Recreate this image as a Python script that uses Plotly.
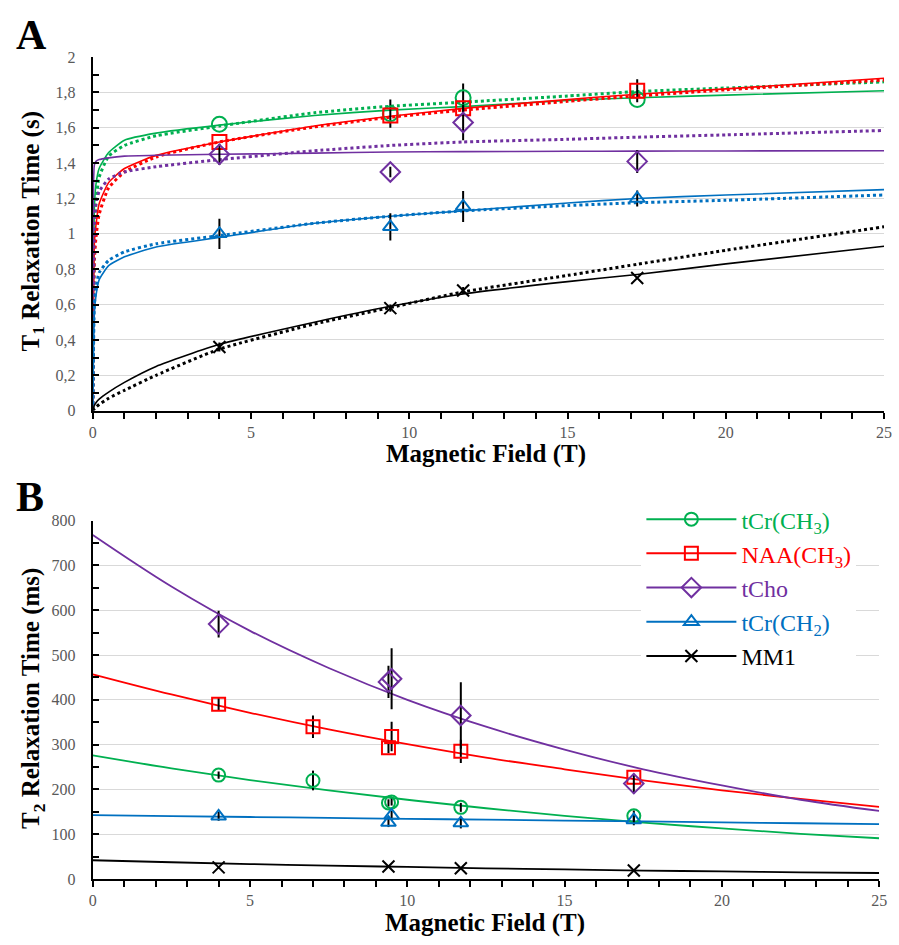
import plotly.graph_objects as go

W, H = 899, 945


def px(x):
    return x / W


def py(y):
    return 1 - y / H


# ---------------- Panel A : T1 data ----------------
fields_a = [4.0, 9.4, 11.7, 17.2]
t1_tcr_ch3 = [1.62, 1.68, 1.77, 1.76]
t1_tcr_ch3_err = [0.0, 0.08, 0.08, 0.0]
t1_naa = [1.52, 1.67, 1.71, 1.81]
t1_naa_err = [0.0, 0.0, 0.0, 0.065]
t1_tcho = [1.45, 1.35, 1.63, 1.41]
t1_tcho_err = [0.06, 0.03, 0.10, 0.065]
t1_tcr_ch2 = [1.00, 1.04, 1.155, 1.20]
t1_tcr_ch2_err = [0.085, 0.077, 0.088, 0.045]
t1_mm1 = [0.36, 0.58, 0.68, 0.75]
t1_mm1_err = [0.025, 0.02, 0.02, 0.0]

# fitted curves
fit_x_a = [0, 0.05, 0.1, 0.2, 0.5, 1, 2, 4, 7, 9.4, 11.7, 15, 17.2, 20, 25]
fit_tcr_ch3_solid = [0, 1.15, 1.28, 1.37, 1.46, 1.53, 1.57, 1.615, 1.67, 1.70, 1.72, 1.755, 1.77, 1.785, 1.81]
fit_tcr_ch3_dot = [0, 1.00, 1.18, 1.32, 1.44, 1.50, 1.555, 1.61, 1.685, 1.722, 1.745, 1.78, 1.805, 1.825, 1.86]
fit_naa_solid = [0, 0.95, 1.05, 1.17, 1.29, 1.37, 1.444, 1.52, 1.61, 1.665, 1.71, 1.76, 1.79, 1.82, 1.88]
fit_naa_dot = [0, 0.85, 0.98, 1.11, 1.26, 1.35, 1.435, 1.52, 1.605, 1.66, 1.70, 1.75, 1.78, 1.815, 1.87]
fit_tcho_solid = [0, 1.39, 1.41, 1.42, 1.43, 1.44, 1.445, 1.45, 1.457, 1.463, 1.465, 1.467, 1.468, 1.469, 1.47]
fit_tcho_dot = [0, 1.05, 1.17, 1.24, 1.31, 1.35, 1.38, 1.42, 1.47, 1.50, 1.52, 1.535, 1.547, 1.56, 1.585]
fit_tcr_ch2_solid = [0, 0.55, 0.65, 0.74, 0.82, 0.87, 0.926, 0.98, 1.06, 1.10, 1.13, 1.175, 1.20, 1.22, 1.25]
fit_tcr_ch2_dot = [0, 0.60, 0.69, 0.78, 0.85, 0.898, 0.944, 0.99, 1.06, 1.10, 1.13, 1.16, 1.176, 1.19, 1.22]
fit_mm1_solid = [0, 0.03, 0.045, 0.065, 0.105, 0.16, 0.25, 0.375, 0.50, 0.59, 0.66, 0.73, 0.77, 0.83, 0.93]
fit_mm1_dot = [0, 0.01, 0.02, 0.035, 0.07, 0.115, 0.20, 0.348, 0.49, 0.583, 0.672, 0.765, 0.828, 0.907, 1.04]

# ---------------- Panel B : T2 data ----------------
t2_tcr_ch3_x = [4.0, 7.0, 9.4, 9.5, 11.7, 17.2]
t2_tcr_ch3 = [232, 220, 170, 172, 160, 141]
t2_tcr_ch3_err = [8, 22, 8, 8, 10, 12]
t2_naa_x = [4.0, 7.0, 9.4, 9.5, 11.7, 17.2]
t2_naa = [390, 340, 293, 318, 285, 227]
t2_naa_err = [15, 25, 12, 33, 26, 0]
t2_tcho_x = [4.0, 9.4, 9.5, 11.7, 17.2]
t2_tcho = [569, 440, 447, 365, 213]
t2_tcho_err = [30, 36, 68, 74, 22]
t2_tcr_ch2_x = [4.0, 9.4, 9.5, 11.7, 17.2]
t2_tcr_ch2 = [140, 126, 142, 125, 132]
t2_tcr_ch2_err = [10, 10, 10, 12, 12]
t2_mm1_x = [4.0, 9.4, 11.7, 17.2]
t2_mm1 = [26, 28, 24, 19]
t2_mm1_err = [3, 3, 3, 3]

fit_x_b = [0, 2.5, 5, 7.5, 10, 12.5, 15, 17.5, 20, 22.5, 25]
fit_b_tcr_ch3 = [276, 247, 221, 198, 177, 158, 141, 126, 113, 101, 91]
fit_b_naa = [457, 412, 371, 334, 301, 271, 245, 220, 198, 179, 161]
fit_b_tcho = [768, 653, 554, 471, 400, 340, 289, 245, 209, 177, 152]
fit_b_tcr_ch2 = [142.5, 140.5, 138.5, 136.5, 134.5, 132.5, 130.5, 128.5, 126.5, 124.5, 122.7]
fit_b_mm1 = [42, 37.5, 33.5, 30, 27, 24, 21.5, 19, 17, 15, 13.5]

names = ["tCr(CH<sub>3</sub>)", "NAA(CH<sub>3</sub>)", "tCho", "tCr(CH<sub>2</sub>)", "MM1"]
colors = ["#00B050", "#FF0000", "#7030A0", "#0070C0", "#000000"]
symbols = ["circle-open", "square-open", "diamond-open", "triangle-up-open", "x-thin-open"]
sizes_a = [15, 14, 15, 13, 12]
sizes_b = [13, 13, 15, 13, 12]

SERIF = "Liberation Serif, Times New Roman, serif"

fig = go.Figure()

# ---- Panel A curves ----
a_solid = [fit_tcr_ch3_solid, fit_naa_solid, fit_tcho_solid, fit_tcr_ch2_solid, fit_mm1_solid]
a_dot = [fit_tcr_ch3_dot, fit_naa_dot, fit_tcho_dot, fit_tcr_ch2_dot, fit_mm1_dot]
for i in range(5):
    fig.add_trace(go.Scatter(x=fit_x_a, y=a_dot[i], mode="lines", xaxis="x", yaxis="y",
                             line=dict(color=colors[i], width=3, dash="dot", shape="spline", smoothing=0.5),
                             showlegend=False, hoverinfo="skip"))
    fig.add_trace(go.Scatter(x=fit_x_a, y=a_solid[i], mode="lines", xaxis="x", yaxis="y",
                             line=dict(color=colors[i], width=1.6, shape="spline", smoothing=0.5),
                             showlegend=False, hoverinfo="skip"))

a_vals = [t1_tcr_ch3, t1_naa, t1_tcho, t1_tcr_ch2, t1_mm1]
a_errs = [t1_tcr_ch3_err, t1_naa_err, t1_tcho_err, t1_tcr_ch2_err, t1_mm1_err]
for i in range(5):
    fig.add_trace(go.Scatter(x=fields_a, y=a_vals[i], mode="markers", xaxis="x", yaxis="y",
                             marker=dict(symbol=symbols[i], size=sizes_a[i], color=colors[i],
                                         line=dict(color=colors[i], width=2)),
                             error_y=dict(type="data", array=a_errs[i], color="#000000", thickness=2, width=0),
                             showlegend=False))

# ---- Panel B curves ----
b_fits = [fit_b_tcr_ch3, fit_b_naa, fit_b_tcho, fit_b_tcr_ch2, fit_b_mm1]
for i in range(5):
    fig.add_trace(go.Scatter(x=fit_x_b, y=b_fits[i], mode="lines", xaxis="x2", yaxis="y2",
                             line=dict(color=colors[i], width=1.8, shape="spline"),
                             showlegend=False, hoverinfo="skip"))

b_x = [t2_tcr_ch3_x, t2_naa_x, t2_tcho_x, t2_tcr_ch2_x, t2_mm1_x]
b_vals = [t2_tcr_ch3, t2_naa, t2_tcho, t2_tcr_ch2, t2_mm1]
b_errs = [t2_tcr_ch3_err, t2_naa_err, t2_tcho_err, t2_tcr_ch2_err, t2_mm1_err]
for i in range(5):
    fig.add_trace(go.Scatter(x=b_x[i], y=b_vals[i], mode="markers", xaxis="x2", yaxis="y2",
                             marker=dict(symbol=symbols[i], size=sizes_b[i], color=colors[i],
                                         line=dict(color=colors[i], width=2)),
                             error_y=dict(type="data", array=b_errs[i], color="#000000", thickness=2, width=0),
                             showlegend=False))

# ---- legend entries ----
for i in range(5):
    fig.add_trace(go.Scatter(x=[None], y=[None], mode="lines+markers", xaxis="x2", yaxis="y2",
                             name='<span style="color:%s">%s</span>' % (colors[i], names[i]),
                             line=dict(color=colors[i], width=2),
                             marker=dict(symbol=symbols[i], size=sizes_b[i], color=colors[i],
                                         line=dict(color=colors[i], width=2))))

tickfont = dict(family=SERIF, size=16, color="#595959")


def xax(x0, x1, anchor):
    return dict(domain=[px(x0), min(1.0, px(x1))], anchor=anchor, range=[0, 25], tickmode="array",
                tickvals=[0, 5, 10, 15, 20, 25], ticktext=["0", "5", "10", "15", "20", "25"],
                ticks="outside", ticklen=6, tickwidth=2, tickcolor="#000",
                minor=dict(dtick=1, ticks="outside", ticklen=6, tickwidth=2, tickcolor="#000"),
                showline=True, linecolor="#000", linewidth=2, showgrid=False, zeroline=False,
                ticklabeloverflow="allow", tickfont=tickfont)


fig.update_layout(
    width=W, height=H,
    margin=dict(l=0, r=0, t=0, b=0),
    paper_bgcolor="white", plot_bgcolor="white",
    separators=", ",
    font=dict(family=SERIF),
    xaxis=xax(90, 892, "y"),
    yaxis=dict(domain=[py(410), py(50)], anchor="x", range=[0, 2],
               tickmode="array", tickvals=[0, 0.2, 0.4, 0.6, 0.8, 1, 1.2, 1.4, 1.6, 1.8, 2],
               ticktext=["0", "0,2", "0,4", "0,6", "0,8", "1", "1,2", "1,4", "1,6", "1,8", "2"],
               ticks="inside", ticklen=6, tickwidth=2, tickcolor="#000",
               minor=dict(dtick=0.1, ticks="inside", ticklen=6, tickwidth=2, tickcolor="#000", showgrid=False),
               showline=True, linecolor="#000", linewidth=2, showgrid=True, gridcolor="#D9D9D9", gridwidth=1,
               zeroline=False, tickfont=tickfont, ticklabelstandoff=12),
    xaxis2=xax(90, 887, "y2"),
    yaxis2=dict(domain=[py(887), py(522)], anchor="x2", range=[0, 800],
                tickmode="array", tickvals=[0, 100, 200, 300, 400, 500, 600, 700, 800],
                ticktext=["0", "100", "200", "300", "400", "500", "600", "700", "800"],
                ticks="inside", ticklen=6, tickwidth=2, tickcolor="#000",
                minor=dict(dtick=50, ticks="inside", ticklen=6, tickwidth=2, tickcolor="#000", showgrid=False),
                showline=True, linecolor="#000", linewidth=2, showgrid=True, gridcolor="#D9D9D9", gridwidth=1,
                zeroline=False, tickfont=tickfont, ticklabelstandoff=12),
    legend=dict(x=px(646), y=py(498), xanchor="left", yanchor="top", bgcolor="white",
                font=dict(family=SERIF, size=24, color="#000"), itemwidth=90,
                traceorder="normal"),
)

annos = [
    dict(text="<b>A</b>", x=10, y=28),
    dict(text="<b>B</b>", x=10, y=498),
]
for a in annos:
    fig.add_annotation(text=a["text"], x=px(a["x"]), y=py(a["y"]), xref="paper", yref="paper",
                       xanchor="left", yanchor="middle", showarrow=False,
                       font=dict(family=SERIF, size=42, color="#000"))

titles = [
    dict(text="<b>Magnetic Field (T)</b>", x=489, y=454, angle=0),
    dict(text="<b>Magnetic Field (T)</b>", x=488, y=932, angle=0),
    dict(text="<b>T<sub>1</sub> Relaxation Time (s)</b>", x=29, y=228, angle=-90),
    dict(text="<b>T<sub>2</sub> Relaxation Time (ms)</b>", x=29, y=703, angle=-90),
]
for t in titles:
    fig.add_annotation(text=t["text"], x=px(t["x"]), y=py(t["y"]), xref="paper", yref="paper",
                       xanchor="center", yanchor="middle", showarrow=False, textangle=t["angle"],
                       font=dict(family=SERIF, size=25, color="#000"))

fig.write_html("out.html", config={"displayModeBar": False},
               post_script="document.body.style.margin='0px';document.body.style.padding='0px';"
                           "document.documentElement.style.overflow='hidden';")
